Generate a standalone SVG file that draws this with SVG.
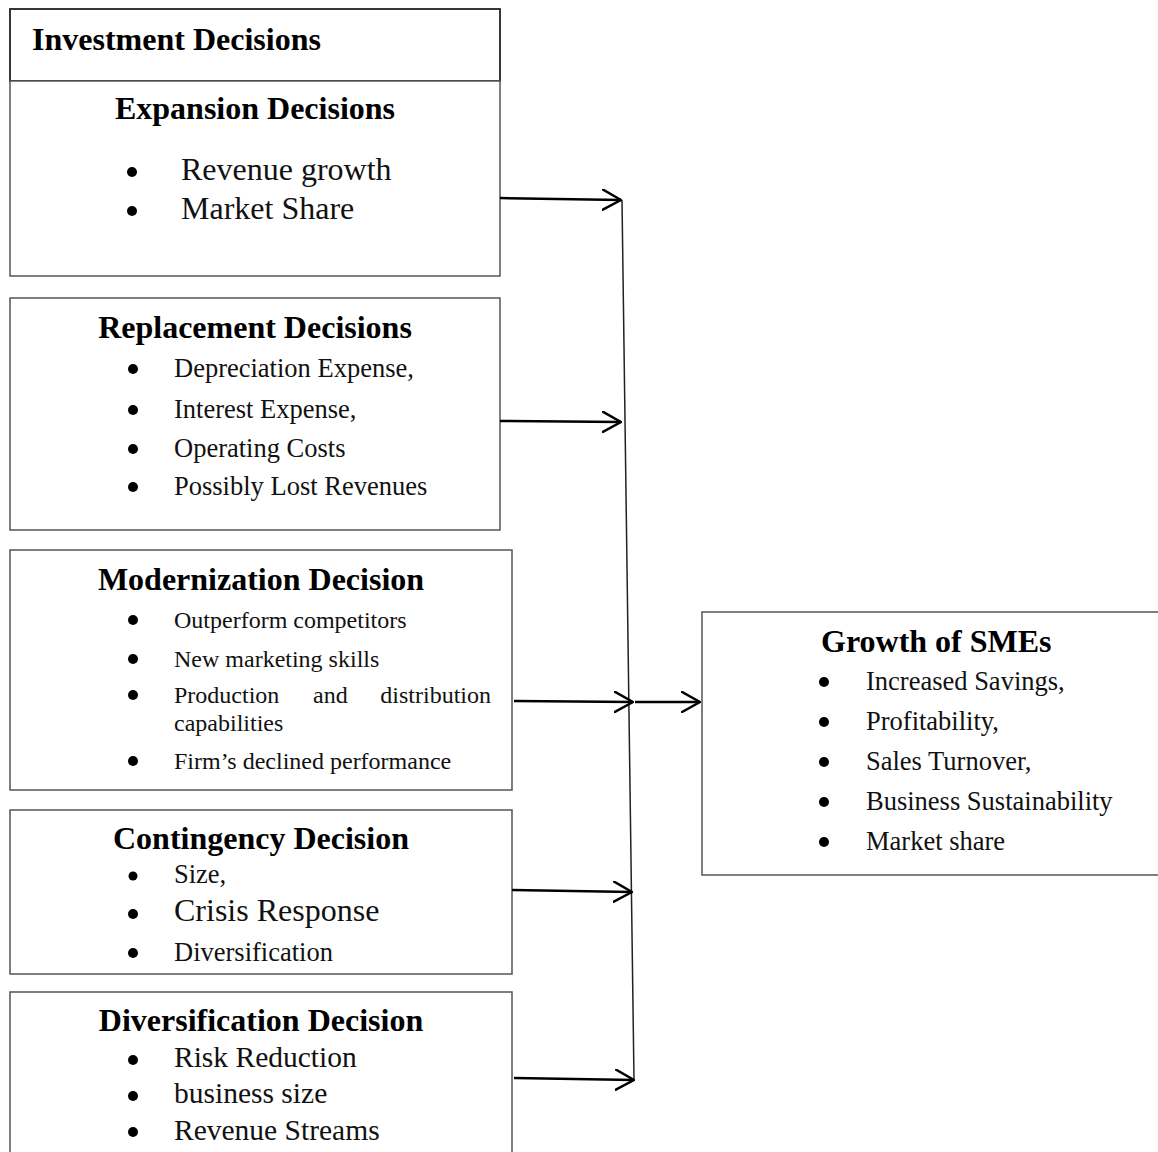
<svg xmlns="http://www.w3.org/2000/svg" width="1158" height="1152" viewBox="0 0 1158 1152">
<defs>
<marker id="arr" viewBox="0 0 20 22" refX="19" refY="11" markerWidth="20" markerHeight="22" markerUnits="userSpaceOnUse" orient="auto">
<path d="M1,1 L19,11 L1,21" fill="none" stroke="#000" stroke-width="2.5" stroke-linecap="round" stroke-linejoin="round"/>
</marker>
<style>
.box{fill:#fff;stroke:#555;stroke-width:1.5}
.top{fill:#fff;stroke:#222;stroke-width:1.8}
text{font-family:"Liberation Serif","Times New Roman",serif;fill:#111}
.t{font-weight:bold;font-size:32px;fill:#000}
.b{fill:#000}
.c{stroke:#000;stroke-width:2.5;fill:none}
.v{stroke:#222;stroke-width:1.5;fill:none}
</style>
</defs>
<rect width="1158" height="1152" fill="#fff"/>
<g id="investment">
<rect class="top" x="10" y="9" width="490" height="72"/>
<text class="t" x="32" y="50">Investment Decisions</text>
</g>
<g id="expansion">
<rect class="box" x="10" y="81" width="490" height="195"/>
<text class="t" x="255" y="119" text-anchor="middle">Expansion Decisions</text>
<circle class="b" cx="132" cy="172" r="5"/>
<circle class="b" cx="132" cy="211" r="5"/>
<text x="181" y="180" font-size="32">Revenue growth</text>
<text x="181" y="219" font-size="32">Market Share</text>
</g>
<g id="replacement">
<rect class="box" x="10" y="298" width="490" height="232"/>
<text class="t" x="255" y="338" text-anchor="middle">Replacement Decisions</text>
<circle class="b" cx="133" cy="369" r="5"/>
<circle class="b" cx="133" cy="410" r="5"/>
<circle class="b" cx="133" cy="449" r="5"/>
<circle class="b" cx="133" cy="487" r="5"/>
<text x="174" y="377" font-size="26.5">Depreciation Expense,</text>
<text x="174" y="418" font-size="26.5">Interest Expense,</text>
<text x="174" y="457" font-size="26.5">Operating Costs</text>
<text x="174" y="495" font-size="26.5">Possibly Lost Revenues</text>
</g>
<g id="modernization">
<rect class="box" x="10" y="550" width="502" height="240"/>
<text class="t" x="261" y="590" text-anchor="middle">Modernization Decision</text>
<circle class="b" cx="133" cy="620" r="5"/>
<circle class="b" cx="133" cy="659" r="5"/>
<circle class="b" cx="133" cy="695" r="5"/>
<circle class="b" cx="133" cy="761" r="5"/>
<text x="174" y="628" font-size="24">Outperform competitors</text>
<text x="174" y="667" font-size="24">New marketing skills</text>
<text x="174" y="703" font-size="24">Production</text>
<text x="313" y="703" font-size="24">and</text>
<text x="491" y="703" font-size="24" text-anchor="end">distribution</text>
<text x="174" y="731" font-size="24">capabilities</text>
<text x="174" y="769" font-size="24">Firm’s declined performance</text>
</g>
<g id="contingency">
<rect class="box" x="10" y="810" width="502" height="164"/>
<text class="t" x="261" y="849" text-anchor="middle">Contingency Decision</text>
<circle class="b" cx="133" cy="876" r="4.5"/>
<circle class="b" cx="133" cy="914" r="5"/>
<circle class="b" cx="133" cy="953" r="5"/>
<text x="174" y="883" font-size="26.5">Size,</text>
<text x="174" y="921" font-size="32">Crisis Response</text>
<text x="174" y="961" font-size="26.5">Diversification</text>
</g>
<g id="diversification">
<rect class="box" x="10" y="992" width="502" height="170"/>
<text class="t" x="261" y="1031" text-anchor="middle">Diversification Decision</text>
<circle class="b" cx="133" cy="1060" r="5"/>
<circle class="b" cx="133" cy="1096" r="5"/>
<circle class="b" cx="133" cy="1132" r="5"/>
<text x="174" y="1067" font-size="29.5">Risk Reduction</text>
<text x="174" y="1103" font-size="29.5">business size</text>
<text x="174" y="1140" font-size="29.5">Revenue Streams</text>
</g>
<g id="growth">
<rect class="box" x="702" y="612" width="470" height="263"/>
<text class="t" x="821" y="652">Growth of SMEs</text>
<circle class="b" cx="824" cy="682" r="5"/>
<circle class="b" cx="824" cy="722" r="5"/>
<circle class="b" cx="824" cy="762" r="5"/>
<circle class="b" cx="824" cy="802" r="5"/>
<circle class="b" cx="824" cy="842" r="5"/>
<text x="866" y="690" font-size="26.5">Increased Savings,</text>
<text x="866" y="730" font-size="26.5">Profitability,</text>
<text x="866" y="770" font-size="26.5">Sales Turnover,</text>
<text x="866" y="810" font-size="26.5">Business Sustainability</text>
<text x="866" y="850" font-size="26.5">Market share</text>
</g>
<g id="connectors">
<line class="v" x1="622" y1="200" x2="634" y2="1080"/>
<line class="c" x1="500" y1="198" x2="621" y2="200" marker-end="url(#arr)"/>
<line class="c" x1="500" y1="421" x2="621" y2="422" marker-end="url(#arr)"/>
<line class="c" x1="514" y1="701" x2="633" y2="702" marker-end="url(#arr)"/>
<line class="c" x1="635" y1="702" x2="700" y2="702" marker-end="url(#arr)"/>
<line class="c" x1="512" y1="890" x2="632" y2="892" marker-end="url(#arr)"/>
<line class="c" x1="514" y1="1078" x2="634" y2="1080" marker-end="url(#arr)"/>
</g>
</svg>
